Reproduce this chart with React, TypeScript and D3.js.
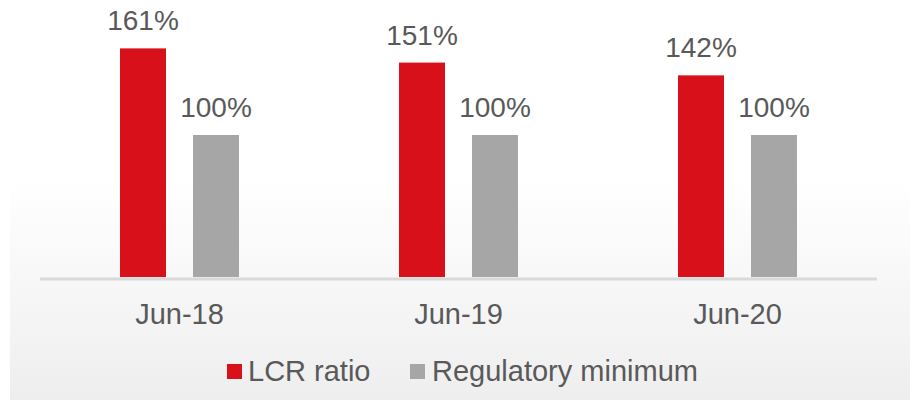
import React from "react";
import * as d3 from "d3";

const categories = ["Jun-18", "Jun-19", "Jun-20"];
const seriesNames = ["LCR ratio", "Regulatory minimum"];
const lcrValues = [161, 151, 142];
const minValues = [100, 100, 100];
const colors = ["#d7101a", "#a6a6a6"];

const W = 910;
const H = 400;
const baseY = 277;
const x0 = d3.scaleBand<string>().domain(categories).range([40, 877]).paddingInner(0).paddingOuter(0);
const y = d3.scaleLinear().domain([0, 100]).range([baseY, baseY - 142]);

const series = [lcrValues, minValues];
const font = "'Liberation Sans', Arial, sans-serif";
const textColor = "#595959";

export default function App() {
  const bw = 46;
  return (
    <svg width={W} height={H} style={{ position: "absolute", left: 0, top: 0, fontFamily: font }}>
      <defs>
        <linearGradient id="bg" x1="0" y1="0" x2="0" y2="1">
          <stop offset="0" stopColor="#ffffff" />
          <stop offset="0.45" stopColor="#ffffff" />
          <stop offset="1" stopColor="#eeeeee" />
        </linearGradient>
      </defs>
      <rect x={10} y={0} width={W - 10} height={H} fill="url(#bg)" />
      {categories.map((c, i) =>
        seriesNames.map((s, j) => {
          const v = series[j][i];
          const bx = (x0(c) as number) + 80 + j * (bw + 27);
          return (
            <g key={c + s}>
              <rect x={bx} y={y(v)} width={bw} height={baseY - y(v)} fill={colors[j]} />
              <text x={bx + bw / 2} y={y(v) - 18} textAnchor="middle" fontSize={28} fill={textColor}>
                {v}%
              </text>
            </g>
          );
        })
      )}
      <line x1={40} x2={877} y1={baseY + 2} y2={baseY + 2} stroke="#d9d9d9" strokeWidth={3} />
      {categories.map((c) => (
        <text key={c} x={(x0(c) as number) + x0.bandwidth() / 2} y={324} textAnchor="middle" fontSize={29} fill={textColor}>
          {c}
        </text>
      ))}
      <g>
        <rect x={227} y={364} width={15} height={15} fill={colors[0]} />
        <text x={248} y={381} fontSize={29} fill={textColor}>{seriesNames[0]}</text>
        <rect x={410} y={364} width={15} height={15} fill={colors[1]} />
        <text x={432} y={381} fontSize={29} fill={textColor}>{seriesNames[1]}</text>
      </g>
    </svg>
  );
}
